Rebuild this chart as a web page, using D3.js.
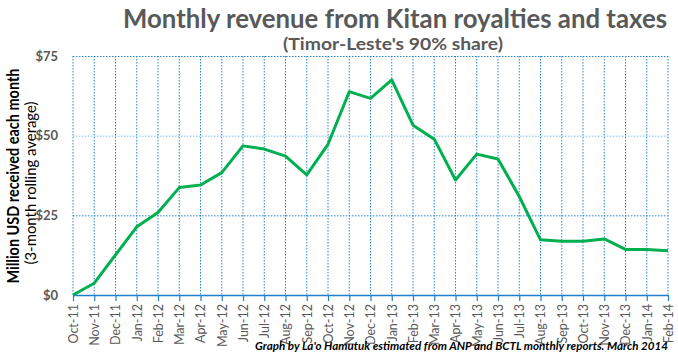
<!DOCTYPE html>
<html><head><meta charset="utf-8">
<script src="https://cdn.jsdelivr.net/npm/d3@7"></script>
<style>body{margin:0;background:#fff;}svg{display:block;}</style>
</head><body>
<script>
const months = ["Oct-11","Nov-11","Dec-11","Jan-12","Feb-12","Mar-12","Apr-12","May-12","Jun-12","Jul-12","Aug-12","Sep-12","Oct-12","Nov-12","Dec-12","Jan-13","Feb-13","Mar-13","Apr-13","May-13","Jun-13","Jul-13","Aug-13","Sep-13","Oct-13","Nov-13","Dec-13","Jan-14","Feb-14"];
const revenue = [0,3.7,12.6,21.4,25.9,33.7,34.5,38.4,46.8,45.8,43.6,37.7,47.3,63.8,61.7,67.5,53.3,48.9,36.1,44.2,42.7,30.9,17.3,16.9,16.9,17.6,14.3,14.3,13.9];
const yTicks = [0,25,50,75];
const yTickLabels = ["$0","$25","$50","$75"];

const W=678,H=359;
const m={left:73,right:10,top:56,bottom:64};
const svg=d3.select("body").append("svg").attr("width",W).attr("height",H);
const font="Lato, 'Open Sans', 'Liberation Sans', sans-serif";
const narrow="'Liberation Sans Narrow', Lato, 'Liberation Sans', sans-serif";

const x=d3.scalePoint().domain(months).range([m.left,W-m.right]);
const y=d3.scaleLinear().domain([0,75]).range([H-m.bottom,m.top]);

// vertical gridlines
svg.append("g").selectAll("line").data(months).join("line")
  .attr("x1",d=>x(d)).attr("x2",d=>x(d)).attr("y1",y(75)).attr("y2",y(0))
  .attr("stroke","#2a86d0").attr("stroke-width",1).attr("stroke-dasharray","1.5,1.5");
// horizontal gridlines
svg.append("g").selectAll("line").data(yTicks.filter(v=>v>0)).join("line")
  .attr("x1",m.left).attr("x2",W-m.right).attr("y1",d=>y(d)+0.5).attr("y2",d=>y(d)+0.5)
  .attr("stroke",d=>d===50?"#7fc0ea":"#2a86d0").attr("stroke-width",1).attr("stroke-dasharray","1.5,1.5");

// x axis
const xAxis=d3.axisBottom(x).tickSize(6).tickSizeOuter(0);
const gx=svg.append("g").attr("transform",`translate(0,${y(0)})`).call(xAxis);
gx.select(".domain").attr("stroke","#1f7fcf").attr("stroke-width",1.5);
gx.selectAll(".tick line").attr("stroke","#1f7fcf").attr("stroke-width",1.2);
gx.selectAll(".tick text")
  .attr("transform","rotate(-90)").attr("x",-9).attr("y",0).attr("dy","0.35em")
  .attr("text-anchor","end").attr("fill","#595959")
  .style("font-family",font).style("font-size","12.5px");

// y axis labels
const yAxis=d3.axisLeft(y).tickValues(yTicks).tickFormat((d,i)=>yTickLabels[i]).tickSize(0).tickPadding(15);
const gy=svg.append("g").attr("transform",`translate(${m.left},0)`).call(yAxis);
gy.select(".domain").remove();
gy.selectAll(".tick text").attr("fill","#595959").style("font-family",font).style("font-size","13px").style("font-weight","bold");

// line
svg.append("path").datum(revenue)
  .attr("d",d3.line().x((d,i)=>x(months[i])).y(d=>y(d)))
  .attr("fill","none").attr("stroke","#00b050").attr("stroke-width",3).attr("stroke-linejoin","round");

// titles
svg.append("text").attr("x",395).attr("y",28).attr("text-anchor","middle")
  .attr("fill","#595959").style("font-family",font).style("font-weight","bold").style("font-size","26px")
  .attr("textLength",544).attr("lengthAdjust","spacingAndGlyphs")
  .text("Monthly revenue from Kitan royalties and taxes");
svg.append("text").attr("x",393).attr("y",50).attr("text-anchor","middle")
  .attr("fill","#595959").style("font-family",font).style("font-weight","bold").style("font-size","17px")
  .attr("textLength",220).attr("lengthAdjust","spacingAndGlyphs")
  .text("(Timor-Leste's 90% share)");

// y axis titles
svg.append("text").attr("transform","translate(19,176) rotate(-90)").attr("text-anchor","middle")
  .attr("fill","#000").style("font-family",narrow).style("font-weight","bold").style("font-size","17.5px")
  .attr("textLength",215).attr("lengthAdjust","spacingAndGlyphs")
  .text("Million USD received each month");
svg.append("text").attr("transform","translate(36,183) rotate(-90)").attr("text-anchor","middle")
  .attr("fill","#000").style("font-family",narrow).style("font-size","16px")
  .attr("textLength",163).attr("lengthAdjust","spacingAndGlyphs")
  .text("(3-month rolling average)");

// footnote
svg.append("text").attr("x",668).attr("y",350).attr("text-anchor","end")
  .attr("fill","#000").style("font-family",font).style("font-weight","bold").style("font-style","italic").style("font-size","11.5px")
  .attr("textLength",413).attr("lengthAdjust","spacingAndGlyphs")
  .text("Graph by La'o Hamutuk estimated from ANP and BCTL monthly reports.  March 2014");
</script>
</body></html>
